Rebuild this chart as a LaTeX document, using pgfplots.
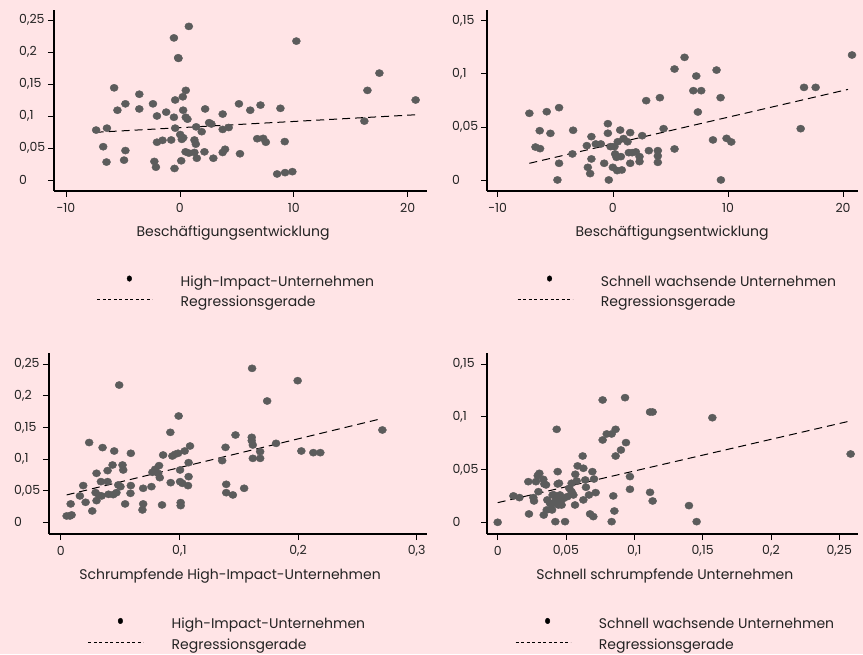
\documentclass[border=0pt]{standalone}
\usepackage{pgfplots}
\pgfplotsset{compat=1.18}
\usepackage{fontspec}
\setmainfont{Poppins}
\definecolor{bg}{RGB}{255,228,230}
\definecolor{dotc}{RGB}{92,92,92}
\definecolor{txt}{RGB}{35,35,35}
\pgfplotsset{
  panel/.style={
    scale only axis,
    axis x line=bottom, axis y line=left,
    axis line style={line width=1.7pt, black, -},
    every outer x axis line/.append style={-},
    every outer y axis line/.append style={-},
    tick align=outside,
    major tick length=6pt,
    every tick/.style={black, line width=0.6pt},
    tick label style={font=\fontsize{12.5}{14}\selectfont, text=txt},
    label style={font=\fontsize{14}{16}\selectfont, text=txt},
    scaled ticks=false,
    /pgf/number format/.cd, fixed, use comma, precision=2, assume math mode=true, /pgfplots/.cd,
    yticklabel style={anchor=west, inner sep=0pt, xshift=-29pt},
    xticklabel style={anchor=center, inner sep=0pt, yshift=-11pt},
    xlabel style={anchor=center, inner sep=0pt},
    legend style={draw=none, fill=none, inner sep=0pt, font=\fontsize{14}{16}\selectfont, text=txt,
      row sep=7pt, column sep=28pt, anchor=north west,
      nodes={inner sep=0pt, text height=10pt, text depth=3.5pt}},
    legend cell align=left,
    clip=false,
  },
  dots/.style={only marks, color=dotc, mark=*, mark size=3.6pt, mark options={fill=dotc, xscale=1.12},
    legend image code/.code={\path (0pt,0pt) (55pt,0pt); \fill[black] (32pt,4.5pt) ellipse (2.3pt and 2.8pt);}},
  reg/.style={black, line width=1pt, dash pattern=on 8pt off 5pt,
    legend image code/.code={\draw[black, line width=0.6pt, dash pattern=on 3pt off 2.5pt] (0pt,4pt) -- (55pt,4pt);}},
}
\begin{document}
\begin{tikzpicture}
\useasboundingbox (0,0) rectangle (863pt,654pt);
\fill[bg] (0,0) rectangle (863pt,654pt);

% top left
\begin{axis}[panel, at={(54pt,463pt)}, anchor=south west, width=373pt, height=181pt,
  xmin=-11.05, xmax=21.7, ymin=-0.0172, ymax=0.2656,
  xtick={-10,0,10,20}, ytick={0,0.05,0.1,0.15,0.2,0.25},
  xlabel={Beschäftigungsentwicklung},
  xlabel style={at={(axis description cs:0.48,0)}, yshift=-42pt},
  legend style={at={(axis description cs:0.115,-0.466)}}]
\addplot[dots] coordinates {(-7.35,0.078) (-6.4,0.081) (-6.73,0.052) (-6.44,0.028) (-5.77,0.144) (-5.48,0.109) (-4.78,0.119) (-4.78,0.046) (-4.9,0.031) (-3.56,0.134) (-3.56,0.111) (-2.36,0.119) (-2.01,0.100) (-2.24,0.029) (-2.1,0.020) (-2.01,0.059) (-1.52,0.062) (-1.2,0.106) (-0.76,0.0625) (-0.52,0.222) (-0.12,0.190) (-0.41,0.125) (-0.52,0.098) (-0.41,0.081) (-0.47,0.018) (0.03,0.071) (0.17,0.0635) (0.26,0.130) (0.29,0.109) (0.52,0.140) (0.52,0.098) (0.67,0.095) (0.79,0.240) (0.12,0.030) (0.5,0.044) (0.79,0.042) (1.43,0.083) (1.28,0.0625) (1.4,0.056) (1.49,0.034) (1.28,0.043) (1.92,0.0755) (2.22,0.111) (2.16,0.044) (2.57,0.0895) (2.77,0.0875) (2.94,0.034) (3.76,0.103) (3.76,0.079) (4.29,0.082) (3.97,0.048) (3.76,0.043) (5.19,0.119) (5.28,0.041) (6.18,0.109) (7.08,0.117) (6.79,0.0645) (7.32,0.065) (7.55,0.059) (8.83,0.112) (9.21,0.060) (8.54,0.0094) (9.24,0.0115) (9.88,0.013) (10.23,0.217) (16.2,0.092) (16.47,0.140) (17.52,0.167) (20.7,0.125) (-0.15,0.191) (0.3,0.066)};
\addlegendentry{High-Impact-Unternehmen}
\addplot[reg] coordinates {(-7.4,0.0745) (20.8,0.102)};
\addlegendentry{Regressionsgerade}
\end{axis}

% top right
\begin{axis}[panel, at={(487pt,463pt)}, anchor=south west, width=371pt, height=181pt,
  xmin=-10.93, xmax=21.3, ymin=-0.0104, ymax=0.1601,
  xtick={-10,0,10,20}, ytick={0,0.05,0.1,0.15},
  xlabel={Beschäftigungsentwicklung},
  xlabel style={at={(axis description cs:0.499,0)}, yshift=-42pt},
  legend style={at={(axis description cs:0.081,-0.466)}}]
\addplot[dots] coordinates {(-7.25,0.0628) (-6.72,0.031) (-6.35,0.0464) (-6.32,0.0295) (-5.74,0.0643) (-5.42,0.0439) (-4.67,0.0681) (-4.67,0.0157) (-4.81,0.0) (-3.45,0.0468) (-3.51,0.0245) (-2.26,0.0323) (-2.17,0.0119) (-1.86,0.0408) (-1.86,0.0198) (-1.97,0.006) (-1.48,0.0339) (-1.04,0.0339) (-0.75,0.0157) (-0.43,0.053) (-0.43,0.044) (-0.35,0.0) (-0.2,0.0314) (0,0.0119) (0.14,0.0314) (0.2,0.0245) (0.32,0.0213) (0.38,0.0088) (0.64,0.047) (0.78,0.0094) (0.7,0.022) (0.93,0.039) (1.28,0.036) (1.51,0.0446) (1.39,0.0257) (1.51,0.0157) (1.68,0.0257) (2.0,0.0264) (2.32,0.022) (2.32,0.0173) (2.55,0.0417) (2.9,0.0747) (3.13,0.0276) (3.91,0.0276) (3.91,0.0226) (3.91,0.0166) (4.09,0.0775) (4.41,0.0483) (5.36,0.0292) (5.36,0.1045) (6.23,0.1155) (6.99,0.0841) (7.25,0.0979) (7.39,0.064) (7.68,0.0841) (9.01,0.1035) (9.36,0.0775) (8.7,0.0377) (9.39,0.0) (9.88,0.0392) (10.29,0.0358) (16.32,0.0483) (16.61,0.0872) (17.62,0.0872) (20.78,0.1177) (0.43,0.036)};
\addlegendentry{Schnell wachsende Unternehmen}
\addplot[reg] coordinates {(-7.25,0.0157) (20.43,0.0853)};
\addlegendentry{Regressionsgerade}
\end{axis}

% bottom left
\begin{axis}[panel, at={(49pt,120pt)}, anchor=south west, width=378pt, height=181.3pt,
  xmin=-0.00985, xmax=0.3087, ymin=-0.0185, ymax=0.2679,
  xtick={0,0.1,0.2,0.3}, ytick={0,0.05,0.1,0.15,0.2,0.25},
  xlabel={Schrumpfende High-Impact-Unternehmen},
  xlabel style={at={(axis description cs:0.479,0)}, yshift=-42pt},
  legend style={at={(axis description cs:0.103,-0.462)}}]
\addplot[dots] coordinates {(0.005,0.010) (0.0078,0.010) (0.0092,0.0116) (0.0084,0.029) (0.0162,0.0416) (0.019,0.058) (0.021,0.0316) (0.024,0.126) (0.0266,0.0179) (0.0294,0.0468) (0.0302,0.0774) (0.0302,0.0342) (0.0325,0.0421) (0.0339,0.0642) (0.0353,0.118) (0.0345,0.0416) (0.0395,0.0816) (0.0395,0.0642) (0.0403,0.0442) (0.0437,0.0905) (0.0451,0.1126) (0.0443,0.0437) (0.047,0.0468) (0.0485,0.059) (0.0493,0.2168) (0.0504,0.0563) (0.0521,0.0905) (0.0527,0.0826) (0.0543,0.029) (0.0591,0.109) (0.0591,0.058) (0.0588,0.0458) (0.0695,0.0537) (0.0695,0.029) (0.0689,0.0195) (0.0765,0.0563) (0.0773,0.079) (0.0796,0.0837) (0.0821,0.0774) (0.0829,0.0895) (0.0835,0.0705) (0.0854,0.0274) (0.0863,0.1063) (0.0924,0.1421) (0.0927,0.0626) (0.0941,0.1047) (0.0964,0.1074) (0.0994,0.1679) (0.0989,0.109) (0.1006,0.0826) (0.1006,0.0642) (0.1025,0.0616) (0.1011,0.0311) (0.1011,0.0263) (0.1045,0.1126) (0.1078,0.0942) (0.1078,0.0721) (0.1073,0.0579) (0.109,0.1205) (0.1361,0.0974) (0.1389,0.1184) (0.1395,0.06) (0.1395,0.0468) (0.1451,0.0432) (0.1473,0.1379) (0.1546,0.0537) (0.1613,0.2432) (0.161,0.1342) (0.161,0.129) (0.1619,0.1221) (0.1619,0.101) (0.1681,0.1116) (0.1681,0.101) (0.174,0.1916) (0.1815,0.1247) (0.1997,0.2237) (0.2028,0.1126) (0.2129,0.11) (0.2188,0.11) (0.2711,0.1458)};
\addlegendentry{High-Impact-Unternehmen}
\addplot[reg] coordinates {(0.005,0.0432) (0.271,0.164)};
\addlegendentry{Regressionsgerade}
\end{axis}

% bottom right
\begin{axis}[panel, at={(487.3pt,120pt)}, anchor=south west, width=370.7pt, height=181.3pt,
  xmin=-0.0076, xmax=0.2637, ymin=-0.0111, ymax=0.1607,
  xtick={0,0.05,0.1,0.15,0.2,0.25}, ytick={0,0.05,0.1,0.15},
  xlabel={Schnell schrumpfende Unternehmen},
  xlabel style={at={(axis description cs:0.479,0)}, yshift=-42pt},
  legend style={at={(axis description cs:0.075,-0.462)}}]
\addplot[dots] coordinates {(0,0) (0.0115,0.025) (0.0159,0.0234) (0.0224,0.0385) (0.0229,0.0079) (0.0261,0.0234) (0.0266,0.0202) (0.028,0.0385) (0.0293,0.0442) (0.0305,0.0464) (0.0298,0.029) (0.0334,0.0407) (0.0341,0.0363) (0.0337,0.0069) (0.0354,0.0354) (0.0363,0.0212) (0.0383,0.018) (0.039,0.0123) (0.0402,0.0259) (0.0422,0.0006) (0.0432,0.0881) (0.0439,0.048) (0.0439,0.0363) (0.0449,0.037) (0.0427,0.0212) (0.0444,0.0164) (0.0456,0.0259) (0.0461,0.0205) (0.0493,0.0006) (0.051,0.0243) (0.0524,0.0322) (0.0541,0.037) (0.0541,0.029) (0.0554,0.0259) (0.0566,0.0164) (0.0568,0.0455) (0.0585,0.0534) (0.0578,0.0392) (0.0622,0.0628) (0.0627,0.0512) (0.0627,0.0212) (0.0641,0.0401) (0.0646,0.0332) (0.0668,0.0259) (0.0676,0.0079) (0.0693,0.048) (0.07,0.0054) (0.0705,0.041) (0.0717,0.0281) (0.0768,0.1159) (0.0768,0.078) (0.0798,0.0837) (0.0834,0.0837) (0.0834,0.0006) (0.0846,0.025) (0.0854,0.0107) (0.0863,0.0881) (0.0863,0.0628) (0.0902,0.0685) (0.0932,0.1181) (0.0939,0.0755) (0.0968,0.0433) (0.0968,0.0313) (0.1115,0.1045) (0.1134,0.1045) (0.1115,0.0284) (0.1134,0.0202) (0.14,0.0158) (0.1456,0.0006) (0.1571,0.0991) (0.2583,0.0647) (0.0412,0.018) (0.0398,0.0117) (0.0468,0.0164) (0.0359,0.0117) (0.0412,0.0259) (0.0483,0.0227)};
\addlegendentry{Schnell wachsende Unternehmen}
\addplot[reg] coordinates {(0,0.0186) (0.259,0.0963)};
\addlegendentry{Regressionsgerade}
\end{axis}
\end{tikzpicture}
\end{document}
